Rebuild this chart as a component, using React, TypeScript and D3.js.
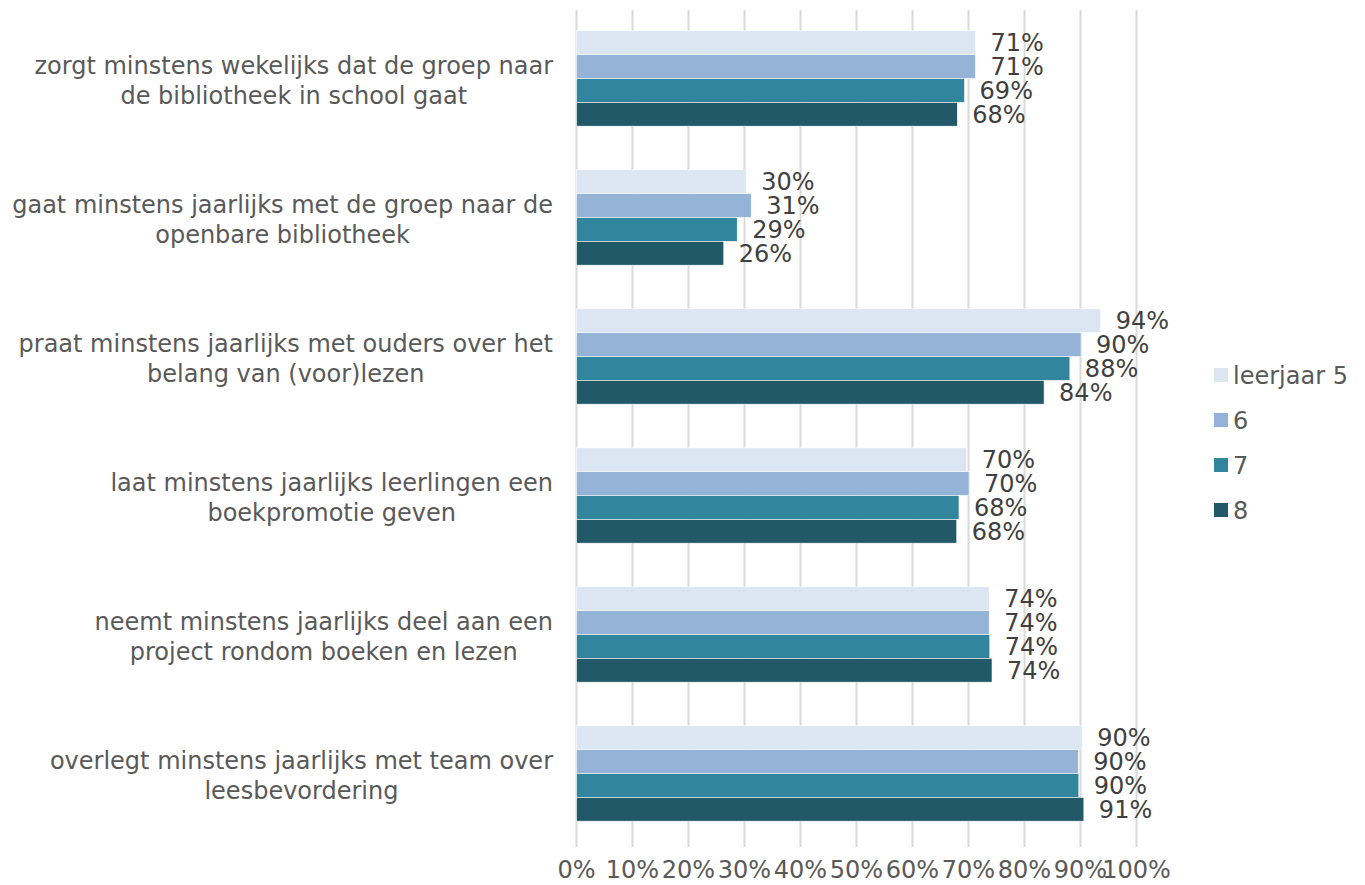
import React, { useLayoutEffect, useRef } from "react";
import * as d3 from "d3";

const categories: string[][] = [
  ["zorgt minstens wekelijks dat de groep naar", "de bibliotheek in school gaat"],
  ["gaat minstens jaarlijks met de groep naar de", "openbare bibliotheek"],
  ["praat minstens jaarlijks met ouders over het", "belang van (voor)lezen"],
  ["laat minstens jaarlijks leerlingen een", "boekpromotie geven"],
  ["neemt minstens jaarlijks deel aan een", "project rondom boeken en lezen"],
  ["overlegt minstens jaarlijks met team over", "leesbevordering"],
];

const seriesNames = ["leerjaar 5", "6", "7", "8"];
const leerjaar5 = [71.25, 30.3, 93.6, 69.7, 73.7, 90.3];
const leerjaar6 = [71.25, 31.2, 90.1, 70.1, 73.7, 89.6];
const leerjaar7 = [69.3, 28.7, 88.1, 68.3, 73.8, 89.7];
const leerjaar8 = [68.0, 26.3, 83.5, 67.9, 74.2, 90.6];
const seriesValues = [leerjaar5, leerjaar6, leerjaar7, leerjaar8];
const colors = ["#DCE6F2", "#95B3D7", "#31859C", "#215968"];
const ticks = [0, 10, 20, 30, 40, 50, 60, 70, 80, 90, 100];

const FONT = "'DejaVu Sans', Verdana, sans-serif";
const FS = 24;

export default function App() {
  const ref = useRef<SVGSVGElement>(null);

  const x = d3.scaleLinear().domain([0, 100]).range([576.5, 1136.5]);
  const keys = categories.map((_, i) => String(i));
  const y = d3.scaleBand<string>().domain(keys).range([9, 843]).paddingInner(0.314).paddingOuter(0.157);
  const yi = d3.scaleBand<string>().domain(seriesNames).range([0, y.bandwidth()]);

  useLayoutEffect(() => {
    if (!ref.current) return;
    const svg = d3.select(ref.current);
    svg.selectAll<SVGTextElement, unknown>("text.cat").each(function () {
      const t = d3.select(this);
      let maxW = 0;
      t.selectAll<SVGTSpanElement, unknown>("tspan").each(function () {
        maxW = Math.max(maxW, this.getComputedTextLength());
      });
      const cx = 553 - maxW / 2;
      t.selectAll("tspan").attr("x", cx);
    });
  }, []);

  return (
    <svg ref={ref} width={1365} height={885} style={{ display: "block", position: "absolute", left: 0, top: 0 }} fontFamily={FONT}>
      <rect width={1365} height={885} fill="#fff" />
      {ticks.map((t) => (
        <line key={t} x1={x(t)} x2={x(t)} y1={10} y2={847} stroke="#D9D9D9" strokeWidth={2} />
      ))}
      {ticks.map((t) => (
        <text key={"l" + t} x={x(t)} y={869} dy="0.36em" textAnchor="middle" fontSize={FS} fill="#595959">
          {t}%
        </text>
      ))}
      {categories.map((lines, ci) => {
        const cy = (y(String(ci)) as number) + y.bandwidth() / 2 + 2;
        const lh = 30;
        return (
          <text key={"c" + ci} className="cat" textAnchor="middle" fontSize={FS} fill="#595959">
            {lines.map((ln, li) => (
              <tspan key={li} x={300} y={cy + (li - (lines.length - 1) / 2) * lh} dy="0.36em">
                {ln}
              </tspan>
            ))}
          </text>
        );
      })}
      {categories.map((_, ci) => (
        <g key={"g" + ci} transform={`translate(0,${y(String(ci))})`}>
          {seriesNames.map((s, si) => {
            const v = seriesValues[si][ci];
            const by = yi(s) as number;
            return (
              <g key={s}>
                <rect x={x(0)} y={by} width={x(v) - x(0)} height={yi.bandwidth()} fill={colors[si]} stroke="#fff" strokeWidth={0.6} />
                <text x={x(v) + 15} y={by + yi.bandwidth() / 2} dy="0.36em" fontSize={FS} fill="#404040">
                  {Math.round(v)}%
                </text>
              </g>
            );
          })}
        </g>
      ))}
      {seriesNames.map((s, si) => (
        <g key={"lg" + s} transform={`translate(1214,${375 + si * 45})`}>
          <rect x={0} y={-7} width={14} height={14} fill={colors[si]} />
          <text x={19} y={0} dy="0.36em" fontSize={FS} fill="#595959">
            {s}
          </text>
        </g>
      ))}
    </svg>
  );
}
